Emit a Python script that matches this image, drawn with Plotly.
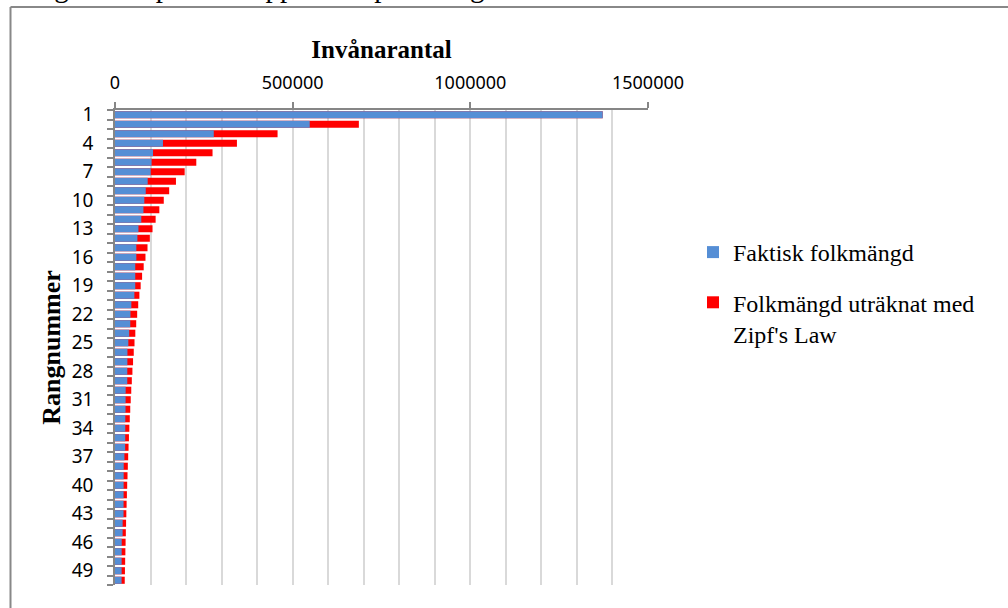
import plotly.graph_objects as go

# Rank of each town (1 = largest)
ranks = list(range(1, 51))

# Actual population per rank
faktisk = [
    1372565, 548000, 278000, 135000, 107000, 103000, 100500, 92000, 86500, 82500,
    80000, 74000, 66000, 63000, 60000, 60000, 57000, 57000, 57000, 54500,
    46000, 43500, 43000, 40000, 37500, 35000, 34800, 34600, 34500, 30000,
    29800, 29600, 29000, 28900, 28800, 28600, 26500, 24500, 24400, 24300,
    24200, 24100, 24000, 21500, 21400, 18900, 18800, 18700, 18700, 18600,
]

# Population predicted by Zipf's law per rank
zipf = [
    1372565, 686283, 457522, 343141, 274513, 228761, 196081, 171571, 152507, 137257,
    124779, 114380, 105582, 98040, 91504, 85785, 80739, 76254, 72240, 68628,
    65360, 62389, 59677, 57190, 54903, 52791, 50836, 49020, 47330, 45752,
    44276, 42893, 41593, 40370, 39216, 38127, 37096, 36120, 35194, 34314,
    33477, 32680, 31920, 31195, 30501, 29838, 29204, 28595, 28012, 27451,
]

rank_ticks = list(range(1, 51, 3))
rank_labels = [str(r) for r in rank_ticks]
x_ticks = [0, 500000, 1000000, 1500000]
x_labels = [str(v) for v in x_ticks]

BLUE = "#558ED5"
RED = "#FF0000"
GRID = "#D9D9D9"
AXIS = "#868686"
FRAME = "#888888"
SERIF = "Liberation Serif"
SANS = "Noto Sans"

W, H = 1008, 608
L, R, T, B = 115, 360, 110, 23
plot_w = W - L - R
plot_h = H - T - B


def px_x(px):
    return (px - L) / plot_w


def px_y(py):
    return (H - B - py) / plot_h


fig = go.Figure()
# Zipf bars first so the actual values are drawn on top
fig.add_trace(go.Bar(
    y=ranks, x=zipf, orientation="h",
    name="Folkmängd uträknat med<br>Zipf's Law",
    legendgroup="zipf", legendrank=2,
    marker=dict(color=RED, line_width=0),
))
fig.add_trace(go.Bar(
    y=ranks, x=faktisk, orientation="h",
    name="Faktisk folkmängd",
    legendgroup="faktisk", legendrank=1,
    marker=dict(color=BLUE, line_width=0),
))

fig.update_layout(
    width=W, height=H,
    margin=dict(l=L, r=R, t=T, b=B, autoexpand=False),
    barmode="overlay", bargap=0.25,
    paper_bgcolor="white", plot_bgcolor="white",
    showlegend=True,
    legend=dict(
        traceorder="grouped",
        xref="container", yref="container",
        x=693 / W, y=1 - 230 / H, xanchor="left", yanchor="top",
        font=dict(family=SERIF, size=24, color="black"),
        itemwidth=30, bgcolor="rgba(0,0,0,0)",
        tracegroupgap=16, valign="top",
    ),
    xaxis=dict(
        side="top", range=[0, 1500000],
        tickmode="array", tickvals=x_ticks, ticktext=x_labels,
        showgrid=True, gridcolor=GRID, gridwidth=2,
        minor=dict(tick0=0, dtick=100000, showgrid=True, gridcolor=GRID, gridwidth=2),
        showline=True, linecolor=AXIS, linewidth=1.5,
        ticks="outside", ticklen=6, tickcolor=AXIS, tickwidth=1.5,
        tickfont=dict(family=SANS, size=18, color="black"),
        ticklabelstandoff=6,
        zeroline=False, fixedrange=True,
        title=dict(text="<b>Invånarantal</b>",
                   font=dict(family=SERIF, size=25, color="black"), standoff=4),
    ),
    yaxis=dict(
        range=[50.5, 0.5],
        tickmode="array", tickvals=rank_ticks, ticktext=rank_labels,
        ticks="", showgrid=False,
        showline=True, linecolor=AXIS, linewidth=1.5,
        minor=dict(tickmode="linear", tick0=0.5, dtick=1, ticks="outside",
                   ticklen=6, tickcolor=AXIS, tickwidth=1.5, showgrid=False),
        tickfont=dict(family=SANS, size=19, color="black"),
        ticklabelstandoff=16,
        zeroline=False, fixedrange=True,
        title=dict(text="<b>Rangnummer</b>",
                   font=dict(family=SERIF, size=26, color="black"), standoff=4),
    ),
    # Chart-area frame: top and left edges (the rest lies outside the page)
    shapes=[
        dict(type="line", xref="paper", yref="paper",
             x0=px_x(10.5), x1=px_x(1040), y0=px_y(7), y1=px_y(7),
             line=dict(color=FRAME, width=2), layer="below"),
        dict(type="line", xref="paper", yref="paper",
             x0=px_x(10.5), x1=px_x(10.5), y0=px_y(7), y1=px_y(640),
             line=dict(color=FRAME, width=2), layer="below"),
    ],
    annotations=[dict(
        text="Figur 4: Zipf's law applicerat på Sveriges 50 största städer",
        xref="paper", yref="paper", x=px_x(28), y=px_y(-13),
        xanchor="left", yanchor="middle", showarrow=False,
        font=dict(family=SERIF, size=29, color="black"),
    )],
)

fig.write_html("out.html")
